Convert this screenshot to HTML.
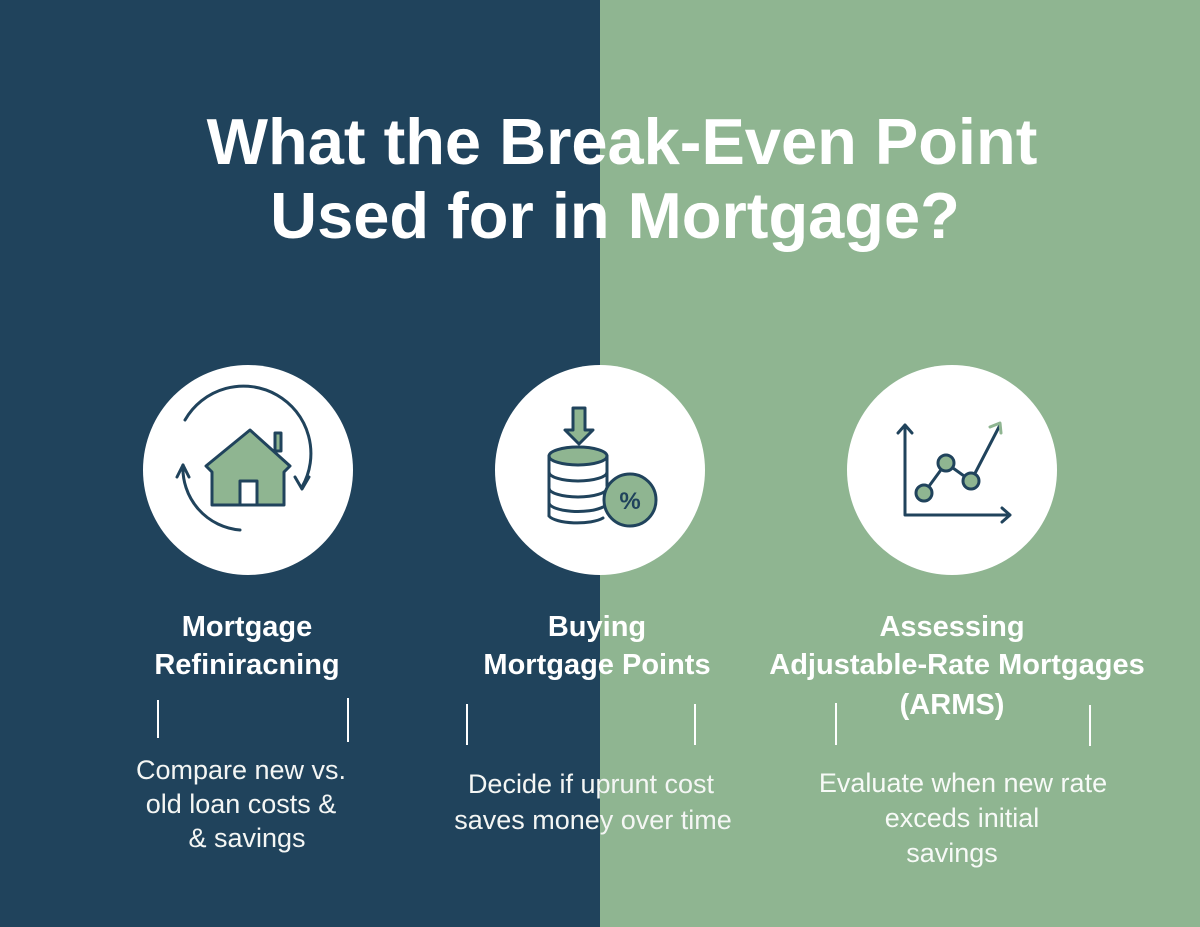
<!DOCTYPE html>
<html><head><meta charset="utf-8"><style>
*{margin:0;padding:0;box-sizing:border-box}
body{width:1200px;height:927px;overflow:hidden;position:relative;font-family:"Liberation Sans",sans-serif;color:#fff;
background:linear-gradient(to right,#20435c 0,#20435c 600px,#8fb591 600px,#8fb591 100%)}
.t{position:absolute;white-space:nowrap;transform:translateX(-50%);}
.title{font-weight:bold;font-size:65px;line-height:1}
.h{font-weight:bold;font-size:29px;line-height:1}
.d{font-size:27px;line-height:1;color:#f4f6f4}
.c{position:absolute;width:210px;height:210px;border-radius:50%;background:#fff}
.v{position:absolute;width:2px;background:#fff}
</style></head><body>
<div class="t title" style="left:622px;top:109px">What the Break-Even Point</div>
<div class="t title" style="left:615px;top:183px">Used for in Mortgage?</div>

<div class="c" style="left:143px;top:365px"></div>
<div class="c" style="left:495px;top:365px"></div>
<div class="c" style="left:847px;top:365px"></div>

<svg width="1200" height="927" style="position:absolute;left:0;top:0" fill="none" stroke="#20435c" stroke-width="3" stroke-linecap="round" stroke-linejoin="round">
<path d="M183 465 A62 62 0 0 0 240 530"/>
<path d="M177 477 l6 -12 l6 12"/>
<path d="M185 420 A62 62 0 0 1 302 487"/>
<path d="M295 477 l7 12 l7 -12"/>
<polygon points="250,430 290,466 284,472 284,505 212,505 212,472 206,466" fill="#8fb591"/>
<rect x="275" y="433" width="6" height="18" fill="#8fb591"/>
<rect x="240" y="481" width="17" height="24" fill="#fff"/>
<path d="M573 408 h12 v22 h8 l-14 14 l-14 -14 h8 z" fill="#8fb591"/>
<ellipse cx="578" cy="456" rx="29" ry="9" fill="#8fb591"/>
<path d="M549 456 v60 M607 456 v30 M549 472 a29 9 0 0 0 58 0 M549 488 a29 9 0 0 0 58 0 M549 503 a29 9 0 0 0 54 4 M549 516 a29 9 0 0 0 54 2"/>
<circle cx="630" cy="500" r="26" fill="#8fb591"/>
<text x="630" y="509" font-family="Liberation Sans" font-size="24" font-weight="bold" fill="#20435c" stroke="none" text-anchor="middle">%</text>
<path d="M905 425 v90 h105 M898 433 l7 -8 l7 8 M1002 508 l8 7 l-8 7"/>
<path d="M924 493 L946 463 L971 481 L1000 425" />
<path d="M990 427 l10 -4 l1 10" stroke="#8fb591"/>
<circle cx="924" cy="493" r="8" fill="#8fb591"/>
<circle cx="946" cy="463" r="8" fill="#8fb591"/>
<circle cx="971" cy="481" r="8" fill="#8fb591"/>
</svg>

<div class="t h" style="left:247px;top:613px">Mortgage</div>
<div class="t h" style="left:247px;top:651px">Refiniracning</div>
<div class="t h" style="left:597px;top:613px">Buying</div>
<div class="t h" style="left:597px;top:651px">Mortgage Points</div>
<div class="t h" style="left:952px;top:613px">Assessing</div>
<div class="t h" style="left:957px;top:651px">Adjustable-Rate Mortgages</div>
<div class="t h" style="left:952px;top:691px">(ARMS)</div>

<div class="v" style="left:157px;top:700px;height:38px"></div>
<div class="v" style="left:347px;top:698px;height:44px"></div>
<div class="v" style="left:466px;top:704px;height:41px"></div>
<div class="v" style="left:694px;top:704px;height:41px"></div>
<div class="v" style="left:835px;top:703px;height:42px"></div>
<div class="v" style="left:1089px;top:705px;height:41px"></div>

<div class="t d" style="left:241px;top:757px">Compare new vs.</div>
<div class="t d" style="left:241px;top:791px">old loan costs &amp;</div>
<div class="t d" style="left:247px;top:825px">&amp; savings</div>
<div class="t d" style="left:591px;top:771px">Decide if uprunt cost</div>
<div class="t d" style="left:593px;top:807px">saves money over time</div>
<div class="t d" style="left:963px;top:770px;color:#f7faf7">Evaluate when new rate</div>
<div class="t d" style="left:962px;top:805px;color:#f7faf7">exceds initial</div>
<div class="t d" style="left:952px;top:840px;color:#f7faf7">savings</div>
</body></html>
